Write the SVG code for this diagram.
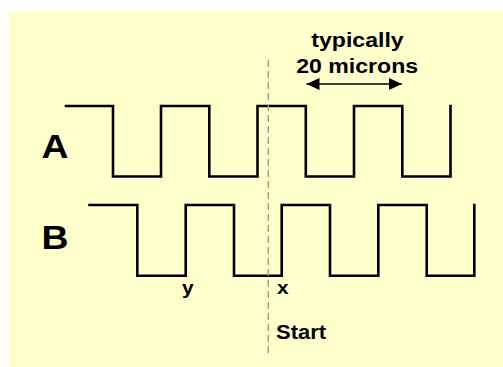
<svg xmlns="http://www.w3.org/2000/svg" width="503" height="367" viewBox="0 0 503 367">
<defs>
<style>
.t{font-family:"Liberation Sans",Arial,sans-serif;font-weight:bold;fill:#000}
.w{fill:none;stroke:#000;stroke-width:2.6;stroke-linejoin:miter;stroke-linecap:square}
</style>
<marker id="ah" viewBox="0 0 13 12" refX="13" refY="6" markerWidth="13" markerHeight="12" markerUnits="userSpaceOnUse" orient="auto-start-reverse">
<path d="M0,0 L13,6 L0,12 Z" fill="#000"/>
</marker>
</defs>
<rect width="503" height="367" fill="#ffffff"/>
<rect x="9" y="11" width="494" height="356" fill="#ffffcc"/>
<g id="label-A"><text class="t" font-size="34" transform="translate(41.5,157.7) scale(1.1,1)">A</text></g>
<g id="label-B"><text class="t" font-size="34" transform="translate(41.5,249.3) scale(1.1,1)">B</text></g>
<g id="wave-A"><path class="w" d="M66,106 H113 V176.5 H161 V106 H209.3 V176.5 H257.5 V106 H305.8 V176.5 H354 V106 H402.3 V176.5 H450.5 V106"/></g>
<g id="wave-B"><path class="w" d="M89.5,205 H137.3 V275.7 H185.7 V205 H234 V275.7 H281.7 V205 H330 V275.7 H378.3 V205 H426.7 V275.7 H474.3 V205"/></g>
<g id="connectors">
<line x1="268.3" y1="60" x2="268.3" y2="355" stroke="#9a9a8a" stroke-width="1.4" stroke-dasharray="7,4"/>
<line x1="306.5" y1="84" x2="401.8" y2="84" stroke="#000" stroke-width="1.3" marker-start="url(#ah)" marker-end="url(#ah)"/>
</g>
<g id="label-typically">
<text class="t" font-size="21" text-anchor="middle" transform="translate(357.5,46.7) scale(1.1,1)">typically</text>
<text class="t" font-size="21" text-anchor="middle" transform="translate(357.2,73.3) scale(1.1,1)">20 microns</text>
</g>
<g id="label-y"><text class="t" font-size="19" transform="translate(182,294) scale(1.1,1)">y</text></g>
<g id="label-x"><text class="t" font-size="19" transform="translate(277,294) scale(1.1,1)">x</text></g>
<g id="label-start"><text class="t" font-size="20" transform="translate(276,339.3) scale(1.1,1)">Start</text></g>
</svg>
